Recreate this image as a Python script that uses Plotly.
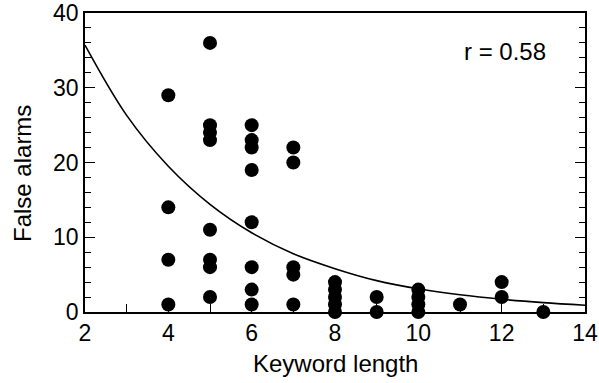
import plotly.graph_objects as go

# Scatter data: keyword length vs false alarms
keyword_length = [4, 4, 4, 4,
                  5, 5, 5, 5, 5, 5, 5, 5,
                  6, 6, 6, 6, 6, 6, 6, 6,
                  7, 7, 7, 7, 7,
                  8, 8, 8, 8, 8,
                  9, 9,
                  10, 10, 10, 10,
                  11,
                  12, 12,
                  13]
false_alarms = [29, 14, 7, 1,
                36, 25, 24, 23, 11, 7, 6, 2,
                25, 23, 22, 19, 12, 6, 3, 1,
                22, 20, 6, 5, 1,
                4, 3, 2, 1, 0,
                2, 0,
                3, 2, 1, 0,
                1,
                4, 2,
                0]

# Fitted curve
curve_x = [2, 3, 4, 5, 6, 7, 8, 9, 10, 11, 12, 13, 14]
curve_y = [35.7, 26.3, 19.5, 14.4, 10.6, 7.8, 5.8, 4.2, 3.1, 2.3, 1.7, 1.25, 0.9]

x_ticks = [2, 4, 6, 8, 10, 12, 14]
y_ticks = [0, 10, 20, 30, 40]
annotation_text = "r = 0.58"

FONT = "Liberation Sans, Arial, Helvetica, sans-serif"

fig = go.Figure()
fig.add_trace(go.Scatter(x=curve_x, y=curve_y, mode="lines",
                         line=dict(color="black", width=1.6, shape="spline", smoothing=1.0),
                         hoverinfo="skip", cliponaxis=True))
fig.add_trace(go.Scatter(x=keyword_length, y=false_alarms, mode="markers",
                         marker=dict(color="black", size=14, line=dict(width=0)),
                         cliponaxis=False))

fig.update_layout(
    width=599, height=383,
    margin=dict(l=85, r=14, t=13, b=71, autoexpand=False),
    paper_bgcolor="white", plot_bgcolor="white",
    showlegend=False,
    font=dict(family=FONT, color="black", size=23),
)
fig.update_xaxes(
    range=[2, 14], tickvals=x_ticks, ticktext=[str(v) for v in x_ticks],
    ticks="inside", ticklen=10, tickwidth=1, tickcolor="black",
    minor=dict(dtick=1, ticks="inside", ticklen=8, tickcolor="black", tickwidth=1, showgrid=False),
    showline=True, linecolor="black", linewidth=1.5, mirror=True,
    showgrid=False, zeroline=False, automargin=False,
    tickfont=dict(size=23, family=FONT),
)
fig.update_yaxes(
    range=[0, 40], tickvals=y_ticks, ticktext=[str(v) for v in y_ticks],
    ticks="inside", ticklen=10, tickwidth=1, tickcolor="black",
    minor=dict(dtick=2, ticks="inside", ticklen=6, tickcolor="black", tickwidth=1, showgrid=False),
    showline=True, linecolor="black", linewidth=1.5, mirror="ticks",
    showgrid=False, zeroline=False, automargin=False,
    ticklabelstandoff=0,
    tickfont=dict(size=23, family=FONT),
)

fig.add_annotation(x=12.08, y=34.9, xref="x", yref="y", text=annotation_text,
                   showarrow=False, font=dict(size=24, family=FONT))
fig.add_annotation(text="Keyword length", xref="paper", yref="paper",
                   x=0.5, y=(312 - 363) / 299.0, xanchor="center", yanchor="middle",
                   showarrow=False, font=dict(size=24, family=FONT))
fig.add_annotation(text="False alarms", xref="paper", yref="paper",
                   x=(22 - 85) / 500.0, y=(312 - 174) / 299.0,
                   xanchor="center", yanchor="middle", textangle=-90,
                   showarrow=False, font=dict(size=24, family=FONT))

fig.write_html("out.html", config={"displayModeBar": False},
               post_script="document.body.style.margin='0';document.body.style.overflow='hidden';")
